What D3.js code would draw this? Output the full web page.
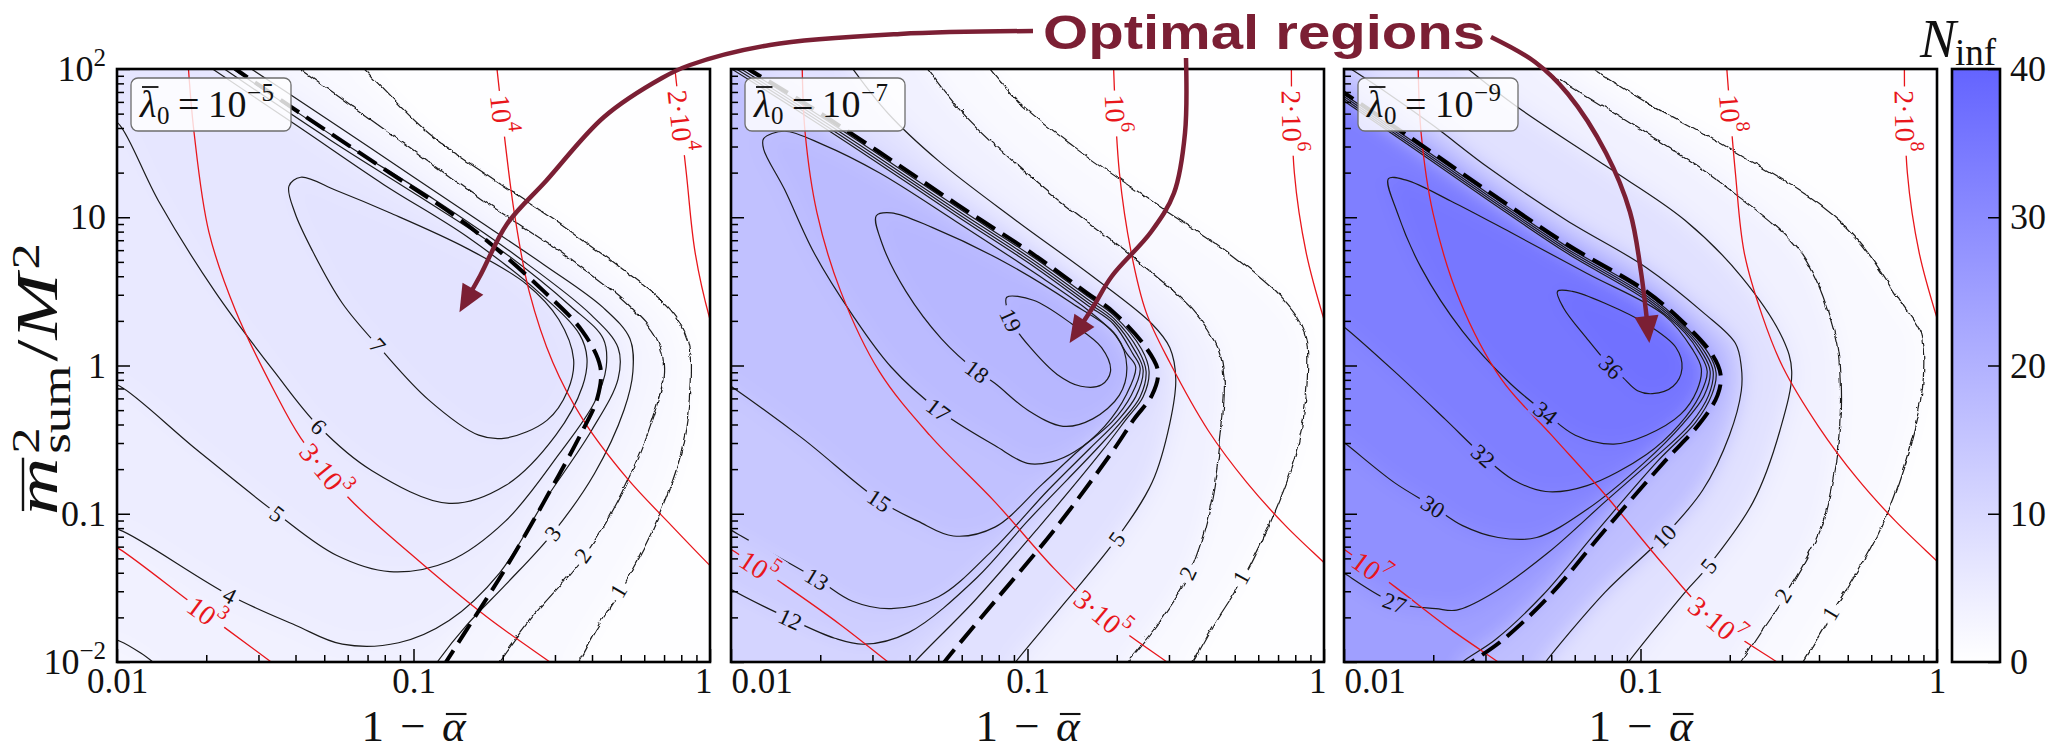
<!DOCTYPE html>
<html>
<head>
<meta charset="utf-8">
<script src="https://cdn.jsdelivr.net/npm/d3@7"></script>
<style>
  body { margin: 0; background: #fff; }
</style>
</head>
<body>
<svg id="fig" width="2063" height="751" font-family="Liberation Serif, DejaVu Serif, serif"></svg>
<script>
// contour points are [log10(1 - alpha), log10(m_sum^2 / M^2)]

// ---- panel 1 : lambda0 = 1e-5
var p1_n1 = [[-0.46,-2.03],[-0.45,-2.00],[-0.39,-1.78],[-0.31,-1.52],[-0.20,-1.11],[-0.10,-0.57],[-0.07,-0.09],[-0.08,0.18],[-0.14,0.39],[-0.30,0.66],[-0.50,0.95],[-0.76,1.30],[-0.95,1.57],[-1.18,2.03]];
var p1_n2 = [[-0.73,-2.03],[-0.72,-2.00],[-0.61,-1.70],[-0.43,-1.28],[-0.30,-0.84],[-0.20,-0.36],[-0.16,-0.04],[-0.18,0.18],[-0.28,0.42],[-0.50,0.76],[-0.76,1.11],[-1.08,1.57],[-1.40,2.03]];
var p1_n3 = [[-0.93,-2.03],[-0.92,-2.00],[-0.82,-1.75],[-0.69,-1.48],[-0.53,-1.13],[-0.39,-0.73],[-0.29,-0.30],[-0.26,-0.04],[-0.27,0.18],[-0.36,0.39],[-0.56,0.68],[-0.82,1.03],[-1.14,1.46],[-1.44,1.86],[-1.57,2.03]];
var p1_n3b = [[-2.03,-1.84],[-1.99,-1.86],[-1.92,-1.94],[-1.86,-2.03]];
var p1_n4 = [[-2.03,-1.10],[-1.99,-1.11],[-1.62,-1.55],[-1.40,-1.75],[-1.24,-1.88],[-1.05,-1.87],[-0.88,-1.72],[-0.71,-1.40],[-0.56,-0.92],[-0.40,-0.44],[-0.31,-0.09],[-0.31,0.12],[-0.40,0.34],[-0.64,0.72],[-0.93,1.12],[-1.25,1.52],[-1.63,2.03]];
var p1_n5 = [[-2.03,-0.12],[-1.99,-0.14],[-1.73,-0.57],[-1.46,-1.00],[-1.26,-1.28],[-1.08,-1.39],[-0.88,-1.32],[-0.69,-1.05],[-0.51,-0.60],[-0.39,-0.25],[-0.35,-0.01],[-0.36,0.18],[-0.47,0.40],[-0.72,0.80],[-0.98,1.14],[-1.28,1.52],[-1.66,2.03]];
var p1_n6 = [[-2.03,1.68],[-1.99,1.62],[-1.86,1.11],[-1.67,0.50],[-1.47,-0.04],[-1.32,-0.41],[-1.14,-0.71],[-0.88,-0.93],[-0.69,-0.81],[-0.52,-0.47],[-0.43,-0.14],[-0.415,0.05],[-0.44,0.21],[-0.57,0.48],[-0.82,0.87],[-1.10,1.22],[-1.38,1.60],[-1.70,2.03]];
var p1_n7 = [[-1.42,1.21],[-1.38,1.27],[-1.26,1.18],[-1.08,1.03],[-0.82,0.79],[-0.62,0.55],[-0.51,0.31],[-0.46,0.04],[-0.48,-0.17],[-0.55,-0.37],[-0.69,-0.49],[-0.78,-0.47],[-0.95,-0.23],[-1.11,0.11],[-1.24,0.42],[-1.34,0.77],[-1.40,1.03]];
var p1_dash = [[-1.62,2.03],[-1.60,2.00],[-1.38,1.70],[-1.08,1.30],[-0.82,0.95],[-0.56,0.50],[-0.43,0.23],[-0.37,-0.01],[-0.38,-0.22],[-0.43,-0.44],[-0.56,-0.92],[-0.69,-1.37],[-0.82,-1.78],[-0.90,-2.03]];
var p1_r1 = [[-2.03,-1.20],[-1.99,-1.24],[-1.73,-1.63],[-1.48,-2.00],[-1.46,-2.03]];
var p1_r2 = [[-1.76,2.03],[-1.74,1.57],[-1.69,0.90],[-1.60,0.37],[-1.47,-0.17],[-1.38,-0.49],[-1.22,-0.89],[-1.01,-1.27],[-0.75,-1.70],[-0.54,-2.00],[-0.52,-2.03]];
var p1_r3 = [[-0.72,2.03],[-0.69,1.49],[-0.66,1.03],[-0.61,0.50],[-0.53,0.02],[-0.43,-0.36],[-0.28,-0.76],[-0.13,-1.08],[0.00,-1.35],[0.02,-1.39]];
var p1_r4 = [[-0.12,2.03],[-0.08,1.30],[-0.05,0.76],[0.00,0.31],[0.01,0.25]];
var p1_labels = [["7",-1.12,0.14],["6",-1.32,-0.41],["5",-1.46,-1.00],["4",-1.62,-1.55],["3",-0.53,-1.13],["2",-0.43,-1.28],["1",-0.31,-1.52]];
var p1_redLabels = [["10","3",-1.70,-1.67],["3·10","3",-1.30,-0.71],["10","4",-0.69,1.70],["2·10","4",-0.10,1.65]];

// ---- panel 2 : lambda0 = 1e-7
var p2_n1 = [[-0.46,-2.03],[-0.45,-2.00],[-0.38,-1.75],[-0.28,-1.43],[-0.17,-0.97],[-0.09,-0.52],[-0.06,-0.09],[-0.07,0.23],[-0.15,0.47],[-0.32,0.76],[-0.58,1.11],[-0.85,1.49],[-1.03,1.78],[-1.14,2.03]];
var p2_n2 = [[-0.68,-2.03],[-0.67,-2.00],[-0.56,-1.72],[-0.46,-1.40],[-0.39,-0.97],[-0.35,-0.44],[-0.34,-0.09],[-0.36,0.12],[-0.45,0.39],[-0.65,0.74],[-0.91,1.14],[-1.11,1.49],[-1.24,1.75],[-1.35,2.03]];
var p2_n5 = [[-1.05,-2.03],[-1.04,-2.00],[-0.87,-1.59],[-0.70,-1.17],[-0.58,-0.79],[-0.52,-0.39],[-0.50,-0.09],[-0.52,0.12],[-0.58,0.28],[-0.78,0.60],[-1.04,0.98],[-1.30,1.38],[-1.47,1.70],[-1.60,2.03]];
var p2_n10 = [[-1.39,-2.03],[-1.38,-2.00],[-1.18,-1.59],[-0.97,-1.11],[-0.75,-0.58],[-0.67,-0.37],[-0.61,-0.21],[-0.59,-0.04],[-0.615,0.11],[-0.71,0.34],[-0.80,0.47],[-0.98,0.73],[-1.24,1.07],[-1.50,1.42],[-1.76,1.76],[-2.03,2.10]];
var p2_n12 = [[-2.03,-1.47],[-2.00,-1.51],[-1.80,-1.71],[-1.65,-1.84],[-1.55,-1.88],[-1.40,-1.80],[-1.17,-1.43],[-1.00,-1.05],[-0.77,-0.57],[-0.68,-0.37],[-0.62,-0.21],[-0.60,-0.04],[-0.625,0.10],[-0.71,0.32],[-0.80,0.45],[-0.98,0.71],[-1.24,1.05],[-1.50,1.40],[-1.76,1.74],[-2.03,2.08]];
var p2_n13 = [[-2.03,-1.07],[-2.00,-1.11],[-1.71,-1.44],[-1.59,-1.59],[-1.46,-1.64],[-1.30,-1.56],[-1.12,-1.25],[-0.93,-0.84],[-0.79,-0.56],[-0.695,-0.37],[-0.635,-0.21],[-0.61,-0.03],[-0.635,0.09],[-0.71,0.30],[-0.80,0.43],[-0.98,0.69],[-1.24,1.03],[-1.50,1.38],[-1.76,1.72],[-2.03,2.06]];
var p2_n15 = [[-2.03,-0.10],[-2.00,-0.14],[-1.76,-0.49],[-1.50,-0.91],[-1.37,-1.05],[-1.25,-1.15],[-1.11,-1.09],[-0.95,-0.80],[-0.82,-0.56],[-0.715,-0.38],[-0.65,-0.20],[-0.62,-0.02],[-0.645,0.08],[-0.71,0.28],[-0.80,0.41],[-0.98,0.67],[-1.24,1.01],[-1.50,1.36],[-1.76,1.70],[-2.03,2.04]];
var p2_n17 = [[-1.89,1.53],[-1.82,1.58],[-1.69,1.49],[-1.50,1.30],[-1.24,0.97],[-0.98,0.63],[-0.80,0.38],[-0.71,0.22],[-0.665,0.08],[-0.635,-0.01],[-0.665,-0.19],[-0.74,-0.41],[-0.84,-0.58],[-0.92,-0.65],[-1.00,-0.66],[-1.11,-0.54],[-1.30,-0.30],[-1.46,-0.01],[-1.59,0.34],[-1.72,0.76],[-1.82,1.19],[-1.89,1.46]];
var p2_n18 = [[-1.51,1.01],[-1.46,1.03],[-1.32,0.93],[-1.08,0.70],[-0.85,0.42],[-0.70,0.20],[-0.665,-0.01],[-0.69,-0.20],[-0.78,-0.36],[-0.88,-0.41],[-1.00,-0.30],[-1.11,-0.12],[-1.17,-0.04],[-1.29,0.18],[-1.41,0.50],[-1.49,0.82]];
var p2_n19 = [[-1.07,0.46],[-0.98,0.44],[-0.85,0.28],[-0.75,0.12],[-0.72,-0.04],[-0.75,-0.13],[-0.82,-0.14],[-0.90,-0.06],[-0.99,0.12],[-1.05,0.28],[-1.07,0.39]];
var p2_dash = [[-1.96,2.03],[-1.94,2.00],[-1.76,1.78],[-1.50,1.44],[-1.24,1.09],[-0.98,0.75],[-0.80,0.49],[-0.71,0.36],[-0.60,0.12],[-0.56,-0.04],[-0.58,-0.20],[-0.64,-0.36],[-0.71,-0.57],[-0.91,-1.11],[-1.11,-1.59],[-1.28,-2.00],[-1.29,-2.03]];
var p2_r1 = [[-2.03,-1.20],[-2.00,-1.24],[-1.82,-1.48],[-1.63,-1.75],[-1.47,-2.00],[-1.45,-2.03]];
var p2_r2 = [[-1.76,2.03],[-1.75,1.57],[-1.71,1.03],[-1.63,0.50],[-1.50,-0.04],[-1.33,-0.47],[-1.11,-0.92],[-0.91,-1.37],[-0.75,-1.68],[-0.53,-2.00],[-0.51,-2.03]];
var p2_r3 = [[-0.71,2.03],[-0.69,1.30],[-0.65,0.76],[-0.60,0.36],[-0.52,0.02],[-0.39,-0.44],[-0.26,-0.79],[-0.13,-1.08],[0.00,-1.33],[0.02,-1.37]];
var p2_r4 = [[-0.11,2.03],[-0.10,1.30],[-0.06,0.76],[0.00,0.31],[0.01,0.25]];
var p2_labels = [["19",-1.04,0.32],["18",-1.17,-0.04],["17",-1.30,-0.30],["15",-1.50,-0.91],["13",-1.71,-1.44],["12",-1.80,-1.71],["5",-0.70,-1.17],["2",-0.46,-1.40],["1",-0.28,-1.43]];
var p2_redLabels = [["10","5",-1.91,-1.37],["3·10","5",-0.75,-1.68],["10","6",-0.70,1.70],["2·10","6",-0.10,1.65]];

// ---- panel 3 : lambda0 = 1e-9
var p3_n1 = [[-0.47,-2.03],[-0.46,-2.00],[-0.36,-1.67],[-0.20,-1.11],[-0.10,-0.57],[-0.05,-0.09],[-0.06,0.23],[-0.11,0.39],[-0.33,0.98],[-0.72,1.49],[-0.98,1.78],[-1.18,2.03]];
var p3_n2 = [[-0.68,-2.03],[-0.67,-2.00],[-0.59,-1.76],[-0.52,-1.55],[-0.40,-1.11],[-0.34,-0.57],[-0.33,-0.09],[-0.35,0.23],[-0.46,0.76],[-0.72,1.22],[-0.98,1.57],[-1.19,1.83],[-1.35,2.03]];
var p3_n5 = [[-1.05,-2.03],[-1.04,-2.00],[-0.85,-1.53],[-0.77,-1.35],[-0.62,-0.92],[-0.53,-0.44],[-0.49,-0.04],[-0.52,0.18],[-0.66,0.60],[-0.85,0.98],[-1.12,1.35],[-1.42,1.75],[-1.60,2.03]];
var p3_n10 = [[-1.33,-2.03],[-1.32,-2.00],[-1.12,-1.53],[-0.92,-1.15],[-0.79,-0.84],[-0.70,-0.47],[-0.66,-0.17],[-0.66,-0.01],[-0.68,0.15],[-0.79,0.36],[-0.98,0.66],[-1.25,0.98],[-1.51,1.33],[-1.70,1.62],[-1.87,1.86],[-2.00,2.03]];
var p3_n22 = [[-1.61,-2.03],[-1.60,-2.00],[-1.49,-1.85],[-1.33,-1.55],[-1.14,-1.10],[-0.94,-0.64],[-0.815,-0.385],[-0.76,-0.20],[-0.745,-0.05],[-0.77,0.08],[-0.85,0.265],[-0.98,0.485],[-1.25,0.805],[-1.51,1.155],[-1.77,1.515],[-2.03,1.87]];
var p3_n27 = [[-2.03,-1.36],[-2.00,-1.40],[-1.83,-1.60],[-1.69,-1.64],[-1.62,-1.65],[-1.51,-1.55],[-1.31,-1.26],[-1.12,-0.92],[-0.95,-0.62],[-0.83,-0.39],[-0.77,-0.20],[-0.755,-0.04],[-0.78,0.08],[-0.85,0.25],[-0.98,0.47],[-1.25,0.79],[-1.51,1.14],[-1.77,1.50],[-2.03,1.855]];
var p3_n30 = [[-2.03,-0.48],[-2.00,-0.52],[-1.83,-0.79],[-1.70,-0.95],[-1.60,-1.08],[-1.48,-1.16],[-1.35,-1.16],[-1.18,-0.97],[-0.99,-0.66],[-0.86,-0.40],[-0.785,-0.20],[-0.765,-0.04],[-0.79,0.08],[-0.85,0.235],[-0.98,0.455],[-1.25,0.775],[-1.51,1.125],[-1.77,1.485],[-2.03,1.84]];
var p3_n32 = [[-2.03,0.30],[-2.00,0.26],[-1.83,-0.04],[-1.66,-0.36],[-1.53,-0.61],[-1.43,-0.77],[-1.32,-0.85],[-1.18,-0.81],[-0.98,-0.60],[-0.87,-0.40],[-0.80,-0.20],[-0.775,-0.04],[-0.80,0.08],[-0.85,0.22],[-0.98,0.44],[-1.25,0.76],[-1.51,1.11],[-1.77,1.47],[-2.03,1.825]];
var p3_n34 = [[-1.85,1.26],[-1.79,1.25],[-1.64,1.11],[-1.44,0.90],[-1.18,0.62],[-0.92,0.34],[-0.825,0.11],[-0.795,-0.02],[-0.81,-0.17],[-0.865,-0.33],[-0.98,-0.47],[-1.09,-0.53],[-1.22,-0.47],[-1.32,-0.32],[-1.44,-0.12],[-1.60,0.23],[-1.74,0.66],[-1.82,1.03]];
var p3_n36 = [[-1.28,0.50],[-1.23,0.50],[-1.12,0.42],[-0.98,0.28],[-0.88,0.12],[-0.86,-0.02],[-0.89,-0.14],[-0.96,-0.19],[-1.01,-0.17],[-1.06,-0.08],[-1.10,-0.01],[-1.18,0.18],[-1.26,0.39]];
var p3_dash = [[-2.03,1.88],[-2.00,1.84],[-1.77,1.53],[-1.51,1.17],[-1.25,0.82],[-0.98,0.50],[-0.85,0.28],[-0.76,0.08],[-0.73,-0.06],[-0.74,-0.20],[-0.80,-0.39],[-0.92,-0.65],[-1.12,-1.11],[-1.31,-1.56],[-1.47,-1.86],[-1.57,-2.00],[-1.59,-2.03]];
var p3_r1 = [[-2.03,-1.20],[-2.00,-1.24],[-1.83,-1.49],[-1.64,-1.78],[-1.48,-2.00],[-1.46,-2.03]];
var p3_r2 = [[-1.75,2.03],[-1.74,1.57],[-1.70,1.03],[-1.61,0.44],[-1.47,-0.09],[-1.30,-0.47],[-1.12,-0.87],[-0.92,-1.35],[-0.76,-1.70],[-0.54,-2.00],[-0.52,-2.03]];
var p3_r3 = [[-0.71,2.03],[-0.68,1.30],[-0.65,0.76],[-0.59,0.34],[-0.52,-0.01],[-0.40,-0.41],[-0.27,-0.76],[-0.14,-1.05],[0.00,-1.32],[0.02,-1.36]];
var p3_r4 = [[-0.11,2.03],[-0.10,1.30],[-0.06,0.76],[0.00,0.32],[0.01,0.26]];
var p3_labels = [["36",-1.10,-0.01],["34",-1.32,-0.32],["32",-1.53,-0.61],["30",-1.70,-0.95],["27",-1.83,-1.60],["10",-0.92,-1.15],["5",-0.77,-1.35],["2",-0.52,-1.55],["1",-0.36,-1.67]];
var p3_redLabels = [["10","7",-1.91,-1.37],["3·10","7",-0.74,-1.71],["10","8",-0.69,1.70],["2·10","8",-0.10,1.65]];

var lambdaExp = ["−5", "−7", "−9"];
var xTicks = [0.01, 0.1, 1];
var yTicks = [0.01, 0.1, 1, 10, 100];
var cbTicks = [0, 10, 20, 30, 40];
// tips of the "Optimal regions" arrows, in data coordinates (log10)
var arrowTips = [[-0.845, 0.36], [-0.858, 0.152], [-0.97, 0.152]];

var panels = [
  { peak: 7.6, open: [[1,p1_n1],[2,p1_n2],[3,p1_n3],[4,p1_n4],[5,p1_n5],[6,p1_n6]], loops: [[7,p1_n7]],
    holes: [[2,3,p1_n3b]], dash: p1_dash, red: [p1_r1,p1_r2,p1_r3,p1_r4], labels: p1_labels, redLabels: p1_redLabels },
  { peak: 19.6, open: [[1,p2_n1],[2,p2_n2],[5,p2_n5],[10,p2_n10],[12,p2_n12],[13,p2_n13],[15,p2_n15]], loops: [[17,p2_n17],[18,p2_n18],[19,p2_n19]],
    holes: [], dash: p2_dash, red: [p2_r1,p2_r2,p2_r3,p2_r4], labels: p2_labels, redLabels: p2_redLabels },
  { peak: 37.2, open: [[1,p3_n1],[2,p3_n2],[5,p3_n5],[10,p3_n10],[22,p3_n22],[27,p3_n27],[30,p3_n30],[32,p3_n32]], loops: [[34,p3_n34],[36,p3_n36]],
    holes: [], dash: p3_dash, red: [p3_r1,p3_r2,p3_r3,p3_r4], labels: p3_labels, redLabels: p3_redLabels }
];

var svg = d3.select("#fig");
var defs = svg.append("defs");
var panelLeft = [117, 731, 1344], top0 = 69, size = 593;
var cmap = d3.scaleLinear().domain([0, 40]).range(["#ffffff", "#6464ff"]).clamp(true);
var red = "#e8161b", maroon = "#7b1f34", ink = "#111";
var serif = "Liberation Serif, DejaVu Serif, serif";

var xMinor = [], yMinor = [];
[0.01, 0.1].forEach(function (d) { for (var k = 2; k < 10; k++) xMinor.push(d * k); });
[0.01, 0.1, 1, 10].forEach(function (d) { for (var k = 2; k < 10; k++) yMinor.push(d * k); });

// slight jitter of the outer, coarse-grid contours
var wavy = defs.append("filter").attr("id", "wavy").attr("filterUnits", "userSpaceOnUse")
  .attr("x", 0).attr("y", 0).attr("width", 2063).attr("height", 751);
wavy.append("feTurbulence").attr("type", "turbulence").attr("baseFrequency", 0.07).attr("numOctaves", 1).attr("seed", 4).attr("result", "t");
wavy.append("feDisplacementMap").attr("in", "SourceGraphic").attr("in2", "t").attr("scale", 4)
  .attr("xChannelSelector", "R").attr("yChannelSelector", "G");

function outside(p) {
  if (p[1] >= 1.98) return [p[0], 3];
  if (p[1] <= -1.98) return [p[0], -3];
  if (p[0] <= -1.98) return [-3, p[1]];
  return [1, p[1]];
}
// extra corner points that close an open contour around its high side
function ringTail(pts, hole) {
  var s = pts[0], e = pts[pts.length - 1];
  var tail = [outside(e)];
  if (hole) tail.push([-3, -3]);
  else { tail.push([-3, 3]); if (s[1] <= -1.98) tail.push([-3, -3]); }
  tail.push(outside(s));
  return tail;
}

function placeLabel(g, mask, paths, parts, target, color, fs) {
  var best = null;
  paths.forEach(function (node) {
    var L = node.getTotalLength();
    for (var s = 0; s <= L; s += 4) {
      var p = node.getPointAtLength(s);
      var d = (p.x - target[0]) * (p.x - target[0]) + (p.y - target[1]) * (p.y - target[1]);
      if (!best || d < best.d) best = { d: d, s: s, node: node, L: L };
    }
  });
  var n = best.node;
  for (var s2 = best.s - 4; s2 <= best.s + 4; s2 += 0.5) {
    var sc = Math.max(0, Math.min(best.L, s2));
    var q = n.getPointAtLength(sc);
    var dd = (q.x - target[0]) * (q.x - target[0]) + (q.y - target[1]) * (q.y - target[1]);
    if (dd < best.d) { best.d = dd; best.s = sc; }
  }
  var p = n.getPointAtLength(best.s);
  var a = n.getPointAtLength(Math.max(0, best.s - 8)), b = n.getPointAtLength(Math.min(best.L, best.s + 8));
  var ang = Math.atan2(b.y - a.y, b.x - a.x) * 180 / Math.PI;
  if (ang > 90) ang -= 180;
  if (ang < -90) ang += 180;
  var tr = "translate(" + p.x + "," + p.y + ") rotate(" + ang + ")";
  var t = g.append("text").attr("transform", tr).attr("text-anchor", "middle")
    .attr("fill", color).attr("font-size", fs).attr("dy", "0.35em");
  t.append("tspan").text(parts[0]);
  if (parts[1]) t.append("tspan").attr("font-size", Math.round(fs * 0.7)).attr("dy", "-0.75em").text(parts[1]);
  var bb = t.node().getBBox();
  mask.append("rect").attr("transform", tr).attr("x", bb.x - 4).attr("y", bb.y + 3)
    .attr("width", bb.width + 8).attr("height", bb.height - 6).attr("fill", "#000");
}

function styleAxis(g, fs) {
  g.select(".domain").remove();
  g.attr("font-size", fs).attr("font-family", serif);
  g.selectAll(".tick line").attr("stroke", "#000").attr("stroke-width", 1.5);
  g.selectAll(".tick text").attr("fill", ink);
}

panels.forEach(function (P, i) {
  var left = panelLeft[i];
  var x = d3.scaleLog().domain([0.01, 1]).range([left, left + size]);
  var y = d3.scaleLog().domain([0.01, 100]).range([top0 + size, top0]);
  var px = function (p) { return [x(Math.pow(10, p[0])), y(Math.pow(10, p[1]))]; };
  var line = d3.line().x(function (d) { return px(d)[0]; }).y(function (d) { return px(d)[1]; })
    .curve(d3.curveCatmullRom.alpha(0.5));
  var loop = d3.line().x(function (d) { return px(d)[0]; }).y(function (d) { return px(d)[1]; })
    .curve(d3.curveCatmullRomClosed.alpha(0.5));

  defs.append("clipPath").attr("id", "clip" + i).append("rect")
    .attr("x", left).attr("y", top0).attr("width", size).attr("height", size);
  defs.append("filter").attr("id", "blur" + i).attr("filterUnits", "userSpaceOnUse")
    .attr("x", left - 100).attr("y", top0 - 100).attr("width", size + 200).attr("height", size + 200)
    .append("feGaussianBlur").attr("stdDeviation", 10);
  var mask = defs.append("mask").attr("id", "mask" + i).attr("maskUnits", "userSpaceOnUse")
    .attr("x", left - 20).attr("y", top0 - 20).attr("width", size + 40).attr("height", size + 40);
  mask.append("rect").attr("x", left - 20).attr("y", top0 - 20).attr("width", size + 40).attr("height", size + 40).attr("fill", "#fff");

  // shading: nested contour regions, blurred
  var contours = P.open.map(function (o) { return { level: o[0], pts: o[1], closed: false }; })
    .concat(P.loops.map(function (o) { return { level: o[0], pts: o[1], closed: true }; }))
    .sort(function (a, b) { return a.level - b.level; });
  var shade = svg.append("g").attr("clip-path", "url(#clip" + i + ")")
    .append("g").attr("filter", "url(#blur" + i + ")");
  shade.append("rect").attr("x", left - 100).attr("y", top0 - 100).attr("width", size + 200).attr("height", size + 200)
    .attr("fill", cmap(0.3));
  contours.forEach(function (c, k) {
    var next = k < contours.length - 1 ? contours[k + 1].level : P.peak;
    var d = c.closed ? loop(c.pts)
      : line(c.pts) + ringTail(c.pts, false).map(function (q) { return "L" + px(q).join(","); }).join("") + "Z";
    shade.append("path").attr("d", d).attr("fill", cmap(c.level + 0.55 * (next - c.level)));
    P.holes.forEach(function (h) {
      if (h[1] !== c.level) return;
      shade.append("path").attr("fill", cmap((h[0] + h[1]) / 2))
        .attr("d", line(h[2]) + ringTail(h[2], true).map(function (q) { return "L" + px(q).join(","); }).join("") + "Z");
    });
  });

  // contour lines
  var lines = svg.append("g").attr("clip-path", "url(#clip" + i + ")")
    .append("g").attr("mask", "url(#mask" + i + ")").attr("fill", "none");
  var blackNodes = contours.map(function (c) {
    return lines.append("path").attr("d", c.closed ? loop(c.pts) : line(c.pts))
      .attr("stroke", "#1b1b1b").attr("stroke-width", 1.2).node();
  });
  P.holes.forEach(function (h) {
    lines.append("path").attr("d", line(h[2])).attr("stroke", "#1b1b1b").attr("stroke-width", 1.2);
  });
  var redNodes = P.red.map(function (r) {
    return lines.append("path").attr("d", line(r)).attr("stroke", red).attr("stroke-width", 1.3).node();
  });
  svg.append("g").attr("clip-path", "url(#clip" + i + ")").append("path")
    .attr("d", line(P.dash)).attr("fill", "none").attr("stroke", "#000")
    .attr("stroke-width", 4).attr("stroke-dasharray", "22,9");

  var labelG = svg.append("g");
  P.labels.forEach(function (l) { placeLabel(labelG, mask, blackNodes, [l[0]], px([l[1], l[2]]), ink, 23); });
  P.redLabels.forEach(function (l) { placeLabel(labelG, mask, redNodes, [l[0], l[1]], px([l[2], l[3]]), red, 28); });
  // the outermost contours are drawn with a little grid jitter
  contours.forEach(function (c, k) { if (c.level <= 2) d3.select(blackNodes[k]).attr("filter", "url(#wavy)"); });

  // legend box
  var bx = left + 14, by = top0 + 9;
  svg.append("rect").attr("x", bx).attr("y", by).attr("width", 160).attr("height", 53).attr("rx", 7)
    .attr("fill", "#fff").attr("fill-opacity", 0.82).attr("stroke", "#6e6e6e").attr("stroke-width", 1.3);
  var base = by + 39;
  var lt = svg.append("text").attr("x", bx + 9).attr("y", base).attr("font-size", 38).attr("fill", ink)
    .attr("textLength", 134).attr("lengthAdjust", "spacing");
  lt.append("tspan").attr("font-style", "italic").text("λ");
  lt.append("tspan").attr("font-size", 25).attr("dy", 7).text("0");
  lt.append("tspan").attr("dy", -7).text("\u2009=\u200910");
  lt.append("tspan").attr("font-size", 25).attr("dy", -16).text(lambdaExp[i]);
  var lw = lt.node().getSubStringLength(0, 1), lx0 = lt.node().getStartPositionOfChar(0).x;
  svg.append("line").attr("x1", lx0 + 2).attr("x2", lx0 + lw + 2).attr("y1", base - 30).attr("y2", base - 30)
    .attr("stroke", ink).attr("stroke-width", 1.8);

  // axes, ticks pointing inward
  var gxMinor = svg.append("g").attr("transform", "translate(0," + (top0 + size) + ")")
    .call(d3.axisBottom(x).tickValues(xMinor).tickSize(-7).tickFormat(""));
  var gx = svg.append("g").attr("transform", "translate(0," + (top0 + size) + ")")
    .call(d3.axisBottom(x).tickValues(xTicks).tickSize(-13).tickPadding(6)
      .tickFormat(function (d) { return String(d); }));
  var gyMinor = svg.append("g").attr("transform", "translate(" + left + ",0)")
    .call(d3.axisLeft(y).tickValues(yMinor).tickSize(-7).tickFormat(""));
  var gy = svg.append("g").attr("transform", "translate(" + left + ",0)")
    .call(d3.axisLeft(y).tickValues(yTicks).tickSize(-13).tickPadding(11)
      .tickFormat(i === 0 ? function (d) { return String(d); } : ""));
  [gxMinor, gx, gyMinor, gy].forEach(function (g) { styleAxis(g, 36); });
  gx.attr("font-size", 35);
  // labels at the shared panel edges are pushed inward, as in the original
  gx.selectAll(".tick text").attr("text-anchor", function (d) {
    if (d === 1 && i < 2) return "end";
    if (d === 0.01 && i > 0) return "start";
    return "middle";
  }).attr("dx", function (d) { return d === 1 && i < 2 ? 2 : 0; });
  if (i === 0) {
    gy.selectAll(".tick text").each(function (d) {
      var t = d3.select(this);
      if (d === 100 || d === 0.01) {
        t.text("10");
        t.append("tspan").attr("font-size", 25).attr("dy", "-0.6em").text(d === 100 ? "2" : "−2");
      }
    });
  }

  // x title 1 - alpha-bar
  var xb = 741;
  var xt = svg.append("text").attr("x", left + size / 2).attr("y", xb).attr("text-anchor", "middle")
    .attr("font-size", 45).attr("fill", ink).attr("textLength", 104).attr("lengthAdjust", "spacing");
  xt.append("tspan").text("1 − ");
  xt.append("tspan").attr("font-style", "italic").text("α");
  var ext = xt.node().getExtentOfChar(4);
  svg.append("line").attr("x1", ext.x + 4).attr("x2", ext.x + ext.width + 1).attr("y1", xb - 27).attr("y2", xb - 27)
    .attr("stroke", ink).attr("stroke-width", 2.1);

  // frame
  svg.append("rect").attr("x", left).attr("y", top0).attr("width", size).attr("height", size)
    .attr("fill", "none").attr("stroke", "#000").attr("stroke-width", 2.6);

  P.tipPx = px(arrowTips[i]);
});

// y title  m-bar^2_sum / M^2
(function () {
  var g = svg.append("g").attr("transform", "translate(57,379) rotate(-90)").attr("fill", ink);
  var inner = g.append("g");
  var fs = 60, fsS = 40;
  var m = inner.append("text").attr("font-size", fs).attr("font-style", "italic").text("m");
  var mw = m.node().getComputedTextLength();
  inner.append("line").attr("x1", 3).attr("x2", mw).attr("y1", -34).attr("y2", -34).attr("stroke", ink).attr("stroke-width", 2.4);
  var s2 = inner.append("text").attr("x", mw + 3).attr("y", -18).attr("font-size", fsS).text("2");
  var sub = inner.append("text").attr("x", mw + 3).attr("y", 13).attr("font-size", fsS).text("sum");
  var xx = mw + 6 + Math.max(s2.node().getComputedTextLength(), sub.node().getComputedTextLength());
  var sl = inner.append("text").attr("x", xx).attr("font-size", fs).text("/");
  xx += sl.node().getComputedTextLength();
  var M = inner.append("text").attr("x", xx).attr("font-size", fs).attr("font-style", "italic").text("M");
  xx += M.node().getComputedTextLength() + 3;
  inner.append("text").attr("x", xx).attr("y", -18).attr("font-size", fsS).text("2");
  var w = inner.node().getBBox().width;
  var k = Math.max(1, Math.min(1.45, 272 / w));
  inner.attr("transform", "scale(" + k + ",1) translate(" + (-w / 2) + ",0)");
})();

// colorbar
(function () {
  var cx = 1952, cw = 48;
  var cb = d3.scaleLinear().domain([0, 40]).range([top0 + size, top0]);
  var grad = defs.append("linearGradient").attr("id", "cbgrad").attr("x1", 0).attr("y1", 1).attr("x2", 0).attr("y2", 0);
  grad.append("stop").attr("offset", 0).attr("stop-color", cmap(0));
  grad.append("stop").attr("offset", 1).attr("stop-color", cmap(40));
  svg.append("rect").attr("x", cx).attr("y", top0).attr("width", cw).attr("height", size).attr("fill", "url(#cbgrad)");
  var ga = svg.append("g").attr("transform", "translate(" + (cx + cw) + ",0)")
    .call(d3.axisRight(cb).tickValues(cbTicks).tickSize(-12).tickPadding(10));
  styleAxis(ga, 36);
  svg.append("rect").attr("x", cx).attr("y", top0).attr("width", cw).attr("height", size)
    .attr("fill", "none").attr("stroke", "#000").attr("stroke-width", 2.6);
  var n = svg.append("text").attr("x", 1920).attr("y", 57).attr("font-size", 54).attr("font-style", "italic")
    .attr("fill", ink).text("N");
  var nw = n.node().getComputedTextLength();
  svg.append("text").attr("x", 1920 + nw - 1).attr("y", 65).attr("font-size", 37).attr("fill", ink).text("inf");
})();

// "Optimal regions" annotation
svg.append("text").attr("x", 1043).attr("y", 49).attr("font-size", 48).attr("font-weight", "bold")
  .attr("font-family", "Liberation Sans Narrow, Liberation Sans, Arial, sans-serif")
  .attr("textLength", 442).attr("lengthAdjust", "spacingAndGlyphs").attr("fill", maroon).text("Optimal regions");

var arrowBodies = [
  [[1033,31],[900,34],[770,45],[690,65],[662,78],[604,117],[546,181],[507,224],[480,276]],
  [[1186,58],[1185,133],[1174,193],[1151,232],[1112,276],[1093,307]],
  [[1491,37],[1535,62],[1568,94],[1606,153],[1630,212],[1641,272]]
];
arrowBodies.forEach(function (body, i) {
  var pts = body.concat([panels[i].tipPx]);
  var path = svg.append("path").attr("d", d3.line().curve(d3.curveCatmullRom.alpha(0.5))(pts))
    .attr("fill", "none").attr("stroke", maroon).attr("stroke-width", 4.5);
  var node = path.node(), L = node.getTotalLength();
  path.attr("stroke-dasharray", (L - 16) + "," + L);
  var tip = node.getPointAtLength(L), back = node.getPointAtLength(L - 20);
  var dx = tip.x - back.x, dy = tip.y - back.y, len = Math.sqrt(dx * dx + dy * dy);
  dx /= len; dy /= len;
  var hl = 27, hw = 12;
  var bxp = tip.x - dx * hl, byp = tip.y - dy * hl;
  svg.append("path").attr("fill", maroon)
    .attr("d", "M" + tip.x + "," + tip.y + "L" + (bxp - dy * hw) + "," + (byp + dx * hw) +
      "L" + (bxp + dy * hw) + "," + (byp - dx * hw) + "Z");
});
</script>
</body>
</html>
